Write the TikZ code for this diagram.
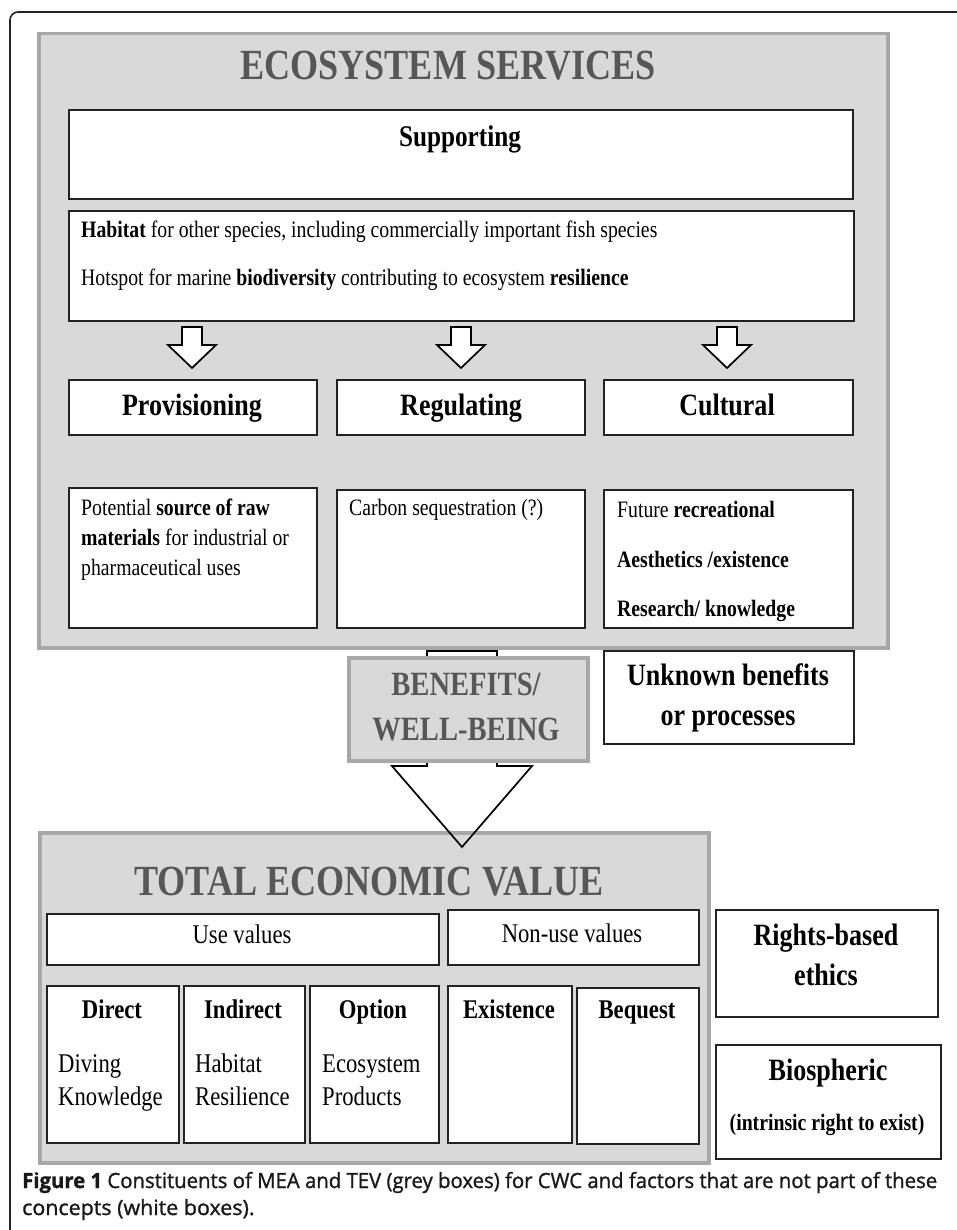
\documentclass[tikz,border=0pt]{standalone}
\usepackage{fontspec}
\setmainfont{Liberation Serif}[FakeStretch=0.84]
\newfontfamily\capfont{Open Sans}[FakeStretch=1.02, FakeBold=1.2]
\usetikzlibrary{calc}
\definecolor{gfill}{HTML}{D9D9D9}
\definecolor{gline}{HTML}{A8A8A8}
\definecolor{gtext}{HTML}{575757}
\definecolor{bline}{HTML}{222222}
\newcommand\fsz[1]{\fontsize{#1}{#1}\selectfont}
\begin{document}
\begin{tikzpicture}[x=1pt,y=-1pt,
  gbox/.style={draw=gline, fill=gfill, line width=3.5pt, inner sep=0pt, anchor=north west},
  wbox/.style={draw=bline, fill=white, line width=1.9pt, inner sep=0pt, anchor=north west},
  txt/.style={inner sep=0pt, anchor=base west, text=black},
  ctxt/.style={inner sep=0pt, anchor=base, text=black},
  harrow/.style={draw=black, fill=white, line width=1.7pt, line join=miter},
  bigarrow/.style={draw=black, line width=1.7pt, line join=miter},
]
\path[use as bounding box] (0,0) rectangle (957,1230);
\clip (0,0) rectangle (957,1230);
\fill[white] (0,0) rectangle (957,1230);
% outer frame
\draw[line width=1.6pt, draw=bline, rounded corners=8pt] (10,1300) -- (10,12) -- (1000,12);

% ---------------- Ecosystem services ----------------
\node[gbox, minimum width=849pt, minimum height=614pt] (es) at (37,32) {};
\node[ctxt, text=gtext, font=\fsz{43}\bfseries] (estitle) at (448,80) {ECOSYSTEM SERVICES};

\node[wbox, minimum width=784pt, minimum height=89pt] (sup) at (68,109) {};
\node[ctxt, font=\fsz{30}\bfseries] (suptxt) at (460,147) {Supporting};

\node[wbox, minimum width=785pt, minimum height=110pt] (hab) at (68,210) {};
\node[txt, font=\fsz{23.5}] (hab1) at (81,238) {\textbf{Habitat} for other species, including commercially important fish species};
\node[txt, font=\fsz{23.5}] (hab2) at (81,286) {Hotspot for marine \textbf{biodiversity} contributing to ecosystem \textbf{resilience}};

% small hollow arrows
\foreach \cx/\nm in {192/a1, 461/a2, 727/a3}{
  \draw[harrow] (\cx-10,327) -- (\cx+10,327) -- (\cx+10,345) -- (\cx+24,345)
     -- (\cx,368) -- (\cx-24,345) -- (\cx-10,345) -- cycle;
}

\node[wbox, minimum width=248pt, minimum height=55pt] (prov) at (68,379) {};
\node[wbox, minimum width=248pt, minimum height=55pt] (reg) at (336,379) {};
\node[wbox, minimum width=249pt, minimum height=55pt] (cult) at (603,379) {};
\node[ctxt, font=\fsz{31}\bfseries] (provtxt) at (192,415) {Provisioning};
\node[ctxt, font=\fsz{31}\bfseries] (regtxt) at (461,415) {Regulating};
\node[ctxt, font=\fsz{31}\bfseries] (culttxt) at (727,415) {Cultural};

\node[wbox, minimum width=248pt, minimum height=140pt] (provd) at (68,487) {};
\node[wbox, minimum width=248pt, minimum height=138pt] (regd) at (336,489) {};
\node[wbox, minimum width=249pt, minimum height=138pt] (cultd) at (603,489) {};
\node[txt, font=\fsz{23.5}] (p1) at (81,515) {Potential \textbf{source of raw}};
\node[txt, font=\fsz{23.5}] (p2) at (81,545) {\textbf{materials} for industrial or};
\node[txt, font=\fsz{23.5}] (p3) at (81,575) {pharmaceutical uses};
\node[txt, font=\fsz{23.5}] (r1) at (349,515) {Carbon sequestration (?)};
\node[txt, font=\fsz{23.5}] (c1) at (617,517) {Future \textbf{recreational}};
\node[txt, font=\fsz{23.5}\bfseries] (c2) at (617,567) {Aesthetics /existence};
\node[txt, font=\fsz{23.5}\bfseries] (c3) at (617,616) {Research/ knowledge};

% ---------------- Total economic value ----------------
\node[gbox, minimum width=669pt, minimum height=330pt] (tev) at (38,831) {};
\node[ctxt, text=gtext, font=\fsz{43}\bfseries] (tevtitle) at (369,895) {TOTAL ECONOMIC VALUE};

\node[wbox, minimum width=392pt, minimum height=51pt] (use) at (46,913) {};
\node[wbox, minimum width=251pt, minimum height=55pt] (nonuse) at (447,909) {};
\node[ctxt, font=\fsz{27}] (usetxt) at (242,943) {Use values};
\node[ctxt, font=\fsz{27}] (nonusetxt) at (572,942) {Non-use values};

\node[wbox, minimum width=132pt, minimum height=157pt] (direct) at (46,985) {};
\node[wbox, minimum width=121pt, minimum height=157pt] (indirect) at (183,985) {};
\node[wbox, minimum width=129pt, minimum height=157pt] (option) at (309,985) {};
\node[wbox, minimum width=124pt, minimum height=157pt] (exist) at (447,985) {};
\node[wbox, minimum width=122pt, minimum height=156pt] (bequest) at (576,987) {};
\node[ctxt, font=\fsz{27}\bfseries] (dirtxt) at (112,1018) {Direct};
\node[ctxt, font=\fsz{27}\bfseries] (indtxt) at (243,1018) {Indirect};
\node[ctxt, font=\fsz{27}\bfseries] (opttxt) at (373,1018) {Option};
\node[ctxt, font=\fsz{27}\bfseries] (exitxt) at (509,1018) {Existence};
\node[ctxt, font=\fsz{27}\bfseries] (beqtxt) at (637,1018) {Bequest};
\node[txt, font=\fsz{27}] (d1) at (58,1072) {Diving};
\node[txt, font=\fsz{27}] (d2) at (58,1105) {Knowledge};
\node[txt, font=\fsz{27}] (i1) at (195,1072) {Habitat};
\node[txt, font=\fsz{27}] (i2) at (195,1105) {Resilience};
\node[txt, font=\fsz{27}] (o1) at (322,1072) {Ecosystem};
\node[txt, font=\fsz{27}] (o2) at (322,1105) {Products};

% ---------------- big arrow ----------------
\draw[bigarrow] (427,651) -- (497,651) -- (497,766) -- (532,766) -- (462,847)
   -- (392,766) -- (427,766) -- cycle;

\node[gbox, minimum width=239pt, minimum height=103pt] (ben) at (347,656) {};
\node[ctxt, text=gtext, font=\fsz{34}\bfseries] (ben1) at (466,695) {BENEFITS/};
\node[ctxt, text=gtext, font=\fsz{34}\bfseries] (ben2) at (466,740) {WELL-BEING};

% ---------------- white side boxes ----------------
\node[wbox, minimum width=250pt, minimum height=93pt] (unk) at (603,650) {};
\node[ctxt, font=\fsz{31}\bfseries] (unk1) at (728,685) {Unknown benefits};
\node[ctxt, font=\fsz{31}\bfseries] (unk2) at (728,725) {or processes};

\node[wbox, minimum width=222pt, minimum height=107pt] (rights) at (715,909) {};
\node[ctxt, font=\fsz{31}\bfseries] (rig1) at (826,945) {Rights-based};
\node[ctxt, font=\fsz{31}\bfseries] (rig2) at (826,985) {ethics};

\node[wbox, minimum width=225pt, minimum height=114pt] (bio) at (715,1044) {};
\node[ctxt, font=\fsz{31}\bfseries] (bio1) at (828,1080) {Biospheric};
\node[ctxt, font=\fsz{23.5}\bfseries] (bio2) at (827,1130) {(intrinsic right to exist)};

% ---------------- caption ----------------
\node[txt, text=black!90, font=\capfont\fsz{21}] (cap1) at (22,1188)
  {\resizebox{915pt}{\height}{\textbf{Figure 1} Constituents of MEA and TEV (grey boxes) for CWC and factors that are not part of these}};
\node[txt, text=black!90, font=\capfont\fsz{21}] (cap2) at (22,1215) {concepts (white boxes).};
\end{tikzpicture}
\end{document}
